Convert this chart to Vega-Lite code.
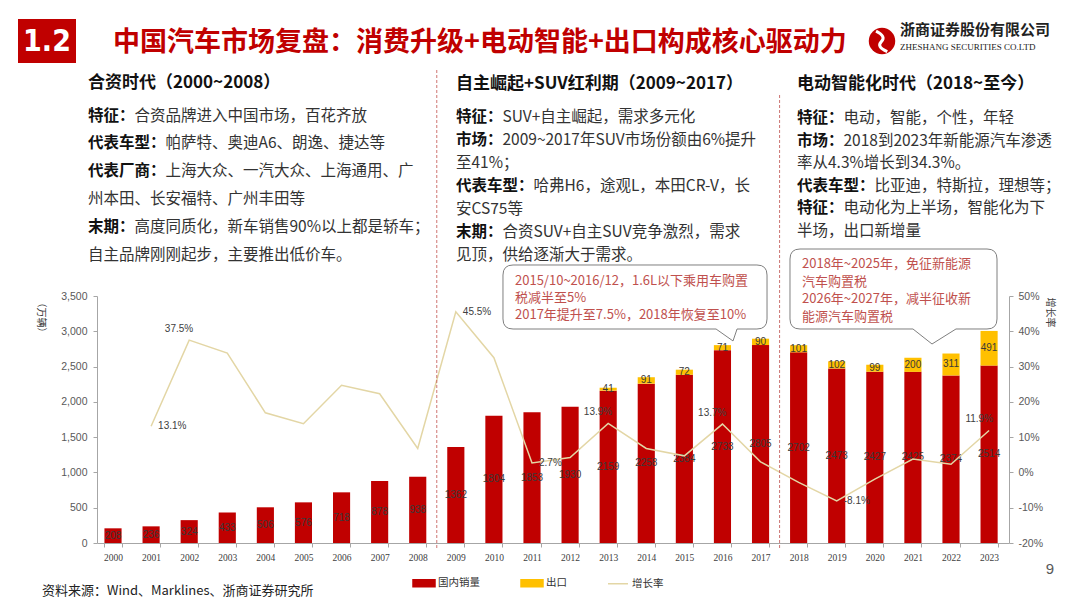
{
  "$schema": "https://vega.github.io/schema/vega-lite/v6.json",
  "autosize": "none",
  "width": 1080,
  "height": 608,
  "padding": 0,
  "background": "white",
  "config": {
    "view": {"stroke": null},
    "font": "Noto Sans CJK SC",
    "locale": {"number": {"decimal": ".", "thousands": ",", "grouping": [3], "currency": ["", ""], "minus": "-"}}
  },
  "datasets": {
    "sales": [
      {"year": "2000", "domestic": 208, "export": null, "growth": null},
      {"year": "2001", "domestic": 236, "export": null, "growth": 0.131},
      {"year": "2002", "domestic": 324, "export": null, "growth": 0.375},
      {"year": "2003", "domestic": 433, "export": null, "growth": 0.338},
      {"year": "2004", "domestic": 506, "export": null, "growth": 0.169},
      {"year": "2005", "domestic": 576, "export": null, "growth": 0.138},
      {"year": "2006", "domestic": 718, "export": null, "growth": 0.247},
      {"year": "2007", "domestic": 878, "export": null, "growth": 0.223},
      {"year": "2008", "domestic": 938, "export": null, "growth": 0.068},
      {"year": "2009", "domestic": 1362, "export": null, "growth": 0.455},
      {"year": "2010", "domestic": 1804, "export": null, "growth": 0.325},
      {"year": "2011", "domestic": 1853, "export": null, "growth": 0.027},
      {"year": "2012", "domestic": 1930, "export": null, "growth": 0.042},
      {"year": "2013", "domestic": 2159, "export": 41, "growth": 0.139},
      {"year": "2014", "domestic": 2258, "export": 91, "growth": 0.068},
      {"year": "2015", "domestic": 2384, "export": 72, "growth": 0.047},
      {"year": "2016", "domestic": 2733, "export": 71, "growth": 0.137},
      {"year": "2017", "domestic": 2805, "export": 90, "growth": 0.030},
      {"year": "2018", "domestic": 2702, "export": 101, "growth": -0.028},
      {"year": "2019", "domestic": 2473, "export": 102, "growth": -0.081},
      {"year": "2020", "domestic": 2427, "export": 99, "growth": -0.019},
      {"year": "2021", "domestic": 2425, "export": 200, "growth": 0.038},
      {"year": "2022", "domestic": 2374, "export": 311, "growth": 0.023},
      {"year": "2023", "domestic": 2514, "export": 491, "growth": 0.119}
    ],
    "p1": [
      {"line": 1, "bold": "特征：", "rest": "合资品牌进入中国市场，百花齐放"},
      {"line": 2, "bold": "代表车型：", "rest": "帕萨特、奥迪A6、朗逸、捷达等"},
      {"line": 3, "bold": "代表厂商：", "rest": "上海大众、一汽大众、上海通用、广"},
      {"line": 4, "bold": null, "rest": "州本田、长安福特、广州丰田等"},
      {"line": 5, "bold": "末期：", "rest": "高度同质化，新车销售90%以上都是轿车；"},
      {"line": 6, "bold": null, "rest": "自主品牌刚刚起步，主要推出低价车。"}
    ],
    "p2": [
      {"line": 1, "bold": "特征：", "rest": "SUV+自主崛起，需求多元化"},
      {"line": 2, "bold": "市场：", "rest": "2009~2017年SUV市场份额由6%提升"},
      {"line": 3, "bold": null, "rest": "至41%；"},
      {"line": 4, "bold": "代表车型：", "rest": "哈弗H6，途观L，本田CR-V，长"},
      {"line": 5, "bold": null, "rest": "安CS75等"},
      {"line": 6, "bold": "末期：", "rest": "合资SUV+自主SUV竞争激烈，需求"},
      {"line": 7, "bold": null, "rest": "见顶，供给逐渐大于需求。"}
    ],
    "p3": [
      {"line": 1, "bold": "特征：", "rest": "电动，智能，个性，年轻"},
      {"line": 2, "bold": "市场：", "rest": "2018到2023年新能源汽车渗透"},
      {"line": 3, "bold": null, "rest": "率从4.3%增长到34.3%。"},
      {"line": 4, "bold": "代表车型：", "rest": "比亚迪，特斯拉，理想等；"},
      {"line": 5, "bold": "特征：", "rest": "电动化为上半场，智能化为下"},
      {"line": 6, "bold": null, "rest": "半场，出口新增量"}
    ]
  },
  "layer": [
    {"data": {"values": [{}]}, "mark": {"type": "rect", "x": 18, "x2": 76, "y": 19, "y2": 63, "color": "#c00000"}, "encoding": {}},
    {"data": {"values": [{}]}, "mark": {"type": "text", "x": 47, "y": 42, "text": "1.2", "align": "center", "baseline": "middle", "font": "DejaVu Sans Condensed, Liberation Sans", "fontWeight": "bold", "fontSize": 30, "color": "white"}, "encoding": {}},
    {"data": {"values": [{}]}, "mark": {"type": "text", "x": 113, "y": 43, "text": "中国汽车市场复盘：消费升级+电动智能+出口构成核心驱动力", "align": "left", "baseline": "middle", "font": "Noto Sans CJK SC", "fontWeight": "bold", "fontSize": 27, "color": "#c00000"}, "encoding": {}},
    {"data": {"values": [{}]}, "mark": {"type": "point", "x": 882, "y": 41, "shape": "circle", "size": 700, "filled": true, "color": "#c00000", "opacity": 1}, "encoding": {}},
    {"data": {"values": [{}]}, "mark": {"type": "point", "x": 882, "y": 41, "shape": "M-0.45,-0.75Q0.35,-0.35-0.05,0.05Q-0.45,0.45,0.4,0.8", "size": 700, "filled": false, "stroke": "white", "strokeWidth": 3, "opacity": 1}, "encoding": {}},
    {"data": {"values": [{}]}, "mark": {"type": "text", "x": 900, "y": 30, "text": "浙商证券股份有限公司", "align": "left", "baseline": "middle", "font": "Noto Sans CJK SC", "fontWeight": "bold", "fontSize": 15, "color": "#222222"}, "encoding": {}},
    {"data": {"values": [{}]}, "mark": {"type": "text", "x": 900, "y": 47, "text": "ZHESHANG SECURITIES CO.LTD", "align": "left", "baseline": "middle", "font": "Liberation Serif", "fontSize": 9, "color": "#222222"}, "encoding": {}},

    {"data": {"values": [{}]}, "mark": {"type": "text", "x": 88, "y": 83, "text": "合资时代（2000~2008）", "align": "left", "baseline": "middle", "font": "Noto Sans CJK SC", "fontWeight": "bold", "fontSize": 17, "color": "#111111"}, "encoding": {}},
    {"data": {"values": [{}]}, "mark": {"type": "text", "x": 456, "y": 84, "text": "自主崛起+SUV红利期（2009~2017）", "align": "left", "baseline": "middle", "font": "Noto Sans CJK SC", "fontWeight": "bold", "fontSize": 17, "color": "#111111"}, "encoding": {}},
    {"data": {"values": [{}]}, "mark": {"type": "text", "x": 797, "y": 84, "text": "电动智能化时代（2018~至今）", "align": "left", "baseline": "middle", "font": "Noto Sans CJK SC", "fontWeight": "bold", "fontSize": 17, "color": "#111111"}, "encoding": {}},

    {
      "data": {"name": "p1"},
      "encoding": {"y": {"field": "line", "type": "quantitative", "scale": {"domain": [1, 6], "range": [115.5, 255], "nice": false, "zero": false}, "axis": null}},
      "layer": [
        {"transform": [{"filter": "datum.bold != null"}], "mark": {"type": "text", "x": 88, "align": "left", "baseline": "middle", "fontSize": 15.5, "fontWeight": "bold", "color": "#111111", "font": "Noto Sans CJK SC"}, "encoding": {"text": {"field": "bold"}}},
        {"transform": [{"filter": "datum.bold == null"}], "mark": {"type": "text", "x": 88, "align": "left", "baseline": "middle", "fontSize": 15.5, "color": "#333333", "font": "Noto Sans CJK SC"}, "encoding": {"text": {"field": "rest"}}},
        {"transform": [{"filter": "datum.bold != null && length(datum.bold) == 3"}], "mark": {"type": "text", "x": 134.5, "align": "left", "baseline": "middle", "fontSize": 15.5, "color": "#333333", "font": "Noto Sans CJK SC"}, "encoding": {"text": {"field": "rest"}}},
        {"transform": [{"filter": "datum.bold != null && length(datum.bold) == 5"}], "mark": {"type": "text", "x": 165.5, "align": "left", "baseline": "middle", "fontSize": 15.5, "color": "#333333", "font": "Noto Sans CJK SC"}, "encoding": {"text": {"field": "rest"}}}
      ]
    },
    {
      "data": {"name": "p2"},
      "encoding": {"y": {"field": "line", "type": "quantitative", "scale": {"domain": [1, 7], "range": [117, 255], "nice": false, "zero": false}, "axis": null}},
      "layer": [
        {"transform": [{"filter": "datum.bold != null"}], "mark": {"type": "text", "x": 456, "align": "left", "baseline": "middle", "fontSize": 15.5, "fontWeight": "bold", "color": "#111111", "font": "Noto Sans CJK SC"}, "encoding": {"text": {"field": "bold"}}},
        {"transform": [{"filter": "datum.bold == null"}], "mark": {"type": "text", "x": 456, "align": "left", "baseline": "middle", "fontSize": 15.5, "color": "#333333", "font": "Noto Sans CJK SC"}, "encoding": {"text": {"field": "rest"}}},
        {"transform": [{"filter": "datum.bold != null && length(datum.bold) == 3"}], "mark": {"type": "text", "x": 502.5, "align": "left", "baseline": "middle", "fontSize": 15.5, "color": "#333333", "font": "Noto Sans CJK SC"}, "encoding": {"text": {"field": "rest"}}},
        {"transform": [{"filter": "datum.bold != null && length(datum.bold) == 5"}], "mark": {"type": "text", "x": 533.5, "align": "left", "baseline": "middle", "fontSize": 15.5, "color": "#333333", "font": "Noto Sans CJK SC"}, "encoding": {"text": {"field": "rest"}}}
      ]
    },
    {
      "data": {"name": "p3"},
      "encoding": {"y": {"field": "line", "type": "quantitative", "scale": {"domain": [1, 6], "range": [118, 231], "nice": false, "zero": false}, "axis": null}},
      "layer": [
        {"transform": [{"filter": "datum.bold != null"}], "mark": {"type": "text", "x": 797, "align": "left", "baseline": "middle", "fontSize": 15.5, "fontWeight": "bold", "color": "#111111", "font": "Noto Sans CJK SC"}, "encoding": {"text": {"field": "bold"}}},
        {"transform": [{"filter": "datum.bold == null"}], "mark": {"type": "text", "x": 797, "align": "left", "baseline": "middle", "fontSize": 15.5, "color": "#333333", "font": "Noto Sans CJK SC"}, "encoding": {"text": {"field": "rest"}}},
        {"transform": [{"filter": "datum.bold != null && length(datum.bold) == 3"}], "mark": {"type": "text", "x": 843.5, "align": "left", "baseline": "middle", "fontSize": 15.5, "color": "#333333", "font": "Noto Sans CJK SC"}, "encoding": {"text": {"field": "rest"}}},
        {"transform": [{"filter": "datum.bold != null && length(datum.bold) == 5"}], "mark": {"type": "text", "x": 874.5, "align": "left", "baseline": "middle", "fontSize": 15.5, "color": "#333333", "font": "Noto Sans CJK SC"}, "encoding": {"text": {"field": "rest"}}}
      ]
    },

    {
      "data": {"name": "sales"},
      "layer": [
        {
          "transform": [{"fold": ["domestic", "export"], "as": ["series", "value"]}],
          "mark": {"type": "bar"},
          "encoding": {
            "x": {"field": "year", "type": "ordinal",
              "scale": {"type": "band", "range": [97, 1009], "paddingInner": 0.55, "paddingOuter": 0.2465, "align": 0.396},
              "axis": {"offset": -65, "title": null, "labelAngle": 0, "labelFontSize": 9.5, "labelFont": "Liberation Serif", "labelColor": "#404040", "domainColor": "#a6a6a6", "tickColor": "#a6a6a6", "tickSize": 4, "tickBand": "extent", "labelPadding": 5}},
            "y": {"field": "value", "type": "quantitative", "stack": "zero",
              "scale": {"domain": [0, 3500], "range": [543, 296], "nice": false},
              "axis": {"offset": -97, "values": [0, 500, 1000, 1500, 2000, 2500, 3000, 3500], "format": ",", "labelExpr": "format(datum.value, ',')", "grid": false, "labelFontSize": 10.5, "labelColor": "#595959", "labelFont": "Liberation Sans", "domainColor": "#a6a6a6", "tickColor": "#a6a6a6", "tickSize": 4, "labelPadding": 6,
                "title": "（万辆）", "titleAngle": 90, "titleX": -57, "titleY": 297, "titleAlign": "left", "titleBaseline": "middle", "titleFontSize": 10, "titleFontWeight": "normal", "titleColor": "#404040", "titleFont": "Noto Sans CJK SC"}},
            "color": {"field": "series", "type": "nominal",
              "scale": {"domain": ["domestic", "export", "growth"], "range": ["#c00000", "#ffc000", "#e3d6a5"]},
              "legend": {"orient": "none", "legendX": 413, "legendY": 572, "direction": "horizontal", "title": null, "labelFontSize": 10.5, "labelColor": "#333333", "labelFont": "Noto Sans CJK SC", "columnPadding": 38, "labelOffset": 3, "symbolSize": 400,
                "labelExpr": "datum.value == 'domestic' ? '国内销量' : datum.value == 'export' ? '出口' : '增长率'",
                "encode": {"symbols": {"update": {
                  "shape": {"signal": "datum.value == 'growth' ? 'M-1,0H1' : 'M-1.1,-0.35H1.1V0.35H-1.1Z'"},
                  "fill": {"signal": "datum.value == 'growth' ? 'transparent' : scale('color', datum.value)"},
                  "stroke": {"signal": "datum.value == 'growth' ? scale('color', datum.value) : 'transparent'"},
                  "strokeWidth": {"value": 1.5},
                  "opacity": {"value": 1}
                }}}}},
            "order": {"field": "series", "sort": "ascending"}
          }
        },
        {
          "transform": [
            {"fold": ["domestic", "export"], "as": ["series", "value"]},
            {"filter": "datum.value != null"},
            {"stack": "value", "groupby": ["year"], "sort": [{"field": "series", "order": "ascending"}], "as": ["v0", "v1"]},
            {"fold": ["v0", "v1"], "as": ["edge", "pos"]},
            {"aggregate": [{"op": "mean", "field": "pos", "as": "mid"}, {"op": "max", "field": "value", "as": "label"}], "groupby": ["year", "series"]}
          ],
          "mark": {"type": "text", "fontSize": 10, "color": "#3a3a3a", "font": "Liberation Sans", "baseline": "middle"},
          "encoding": {
            "x": {"field": "year", "type": "ordinal"},
            "y": {"field": "mid", "type": "quantitative",
              "axis": {"offset": -97, "values": [0, 500, 1000, 1500, 2000, 2500, 3000, 3500], "format": ",", "labelExpr": "format(datum.value, ',')", "grid": false, "labelFontSize": 10.5, "labelColor": "#595959", "labelFont": "Liberation Sans", "domainColor": "#a6a6a6", "tickColor": "#a6a6a6", "tickSize": 4, "labelPadding": 6,
                "title": "（万辆）", "titleAngle": 90, "titleX": -57, "titleY": 297, "titleAlign": "left", "titleBaseline": "middle", "titleFontSize": 10, "titleFontWeight": "normal", "titleColor": "#404040", "titleFont": "Noto Sans CJK SC"}},
            "text": {"field": "label", "type": "quantitative", "format": "d"}
          }
        }
      ]
    },
    {
      "data": {"name": "sales"},
      "encoding": {
        "x": {"field": "year", "type": "ordinal"},
        "y": {"field": "growth", "type": "quantitative",
          "scale": {"domain": [-0.2, 0.5], "range": [543, 296], "nice": false, "zero": false},
          "axis": {"orient": "right", "offset": -71, "values": [-0.2, -0.1, 0, 0.1, 0.2, 0.3, 0.4, 0.5], "format": ".0%", "grid": false, "labelFontSize": 10.5, "labelColor": "#595959", "labelFont": "Liberation Sans", "domainColor": "#a6a6a6", "tickColor": "#a6a6a6", "tickSize": 4, "labelPadding": 5,
            "title": "增长率", "titleAngle": 90, "titleX": 40, "titleY": 297, "titleAlign": "left", "titleBaseline": "middle", "titleFontSize": 10, "titleFontWeight": "normal", "titleColor": "#404040", "titleFont": "Noto Sans CJK SC"}}
      },
      "layer": [
        {"mark": {"type": "line", "strokeWidth": 1.5}, "encoding": {"color": {"datum": "growth", "type": "nominal"}}},
        {"transform": [{"filter": {"field": "year", "oneOf": ["2001", "2009", "2011", "2019"]}}],
          "mark": {"type": "text", "align": "left", "dx": 7, "baseline": "middle", "fontSize": 10, "color": "#404040", "font": "Liberation Sans"},
          "encoding": {"text": {"field": "growth", "type": "quantitative", "format": ".1%"}}},
        {"transform": [{"filter": {"field": "year", "oneOf": ["2002", "2013", "2016", "2023"]}}],
          "mark": {"type": "text", "align": "right", "dx": 4, "dy": -11, "baseline": "middle", "fontSize": 10, "color": "#404040", "font": "Liberation Sans"},
          "encoding": {"text": {"field": "growth", "type": "quantitative", "format": ".1%"}}}
      ]
    },
    {
      "data": {"values": [{}]},
      "mark": {"type": "rule", "color": "#c0504d", "strokeDash": [3, 2], "strokeWidth": 1, "opacity": 0.8},
      "encoding": {"x": {"datum": "2008", "type": "ordinal", "bandPosition": 1.611}, "y": {"value": 70}, "y2": {"value": 548}}
    },
    {
      "data": {"values": [{}]},
      "mark": {"type": "rule", "color": "#c0504d", "strokeDash": [3, 2], "strokeWidth": 1, "opacity": 0.8},
      "encoding": {"x": {"datum": "2017", "type": "ordinal", "bandPosition": 1.611}, "y": {"value": 95}, "y2": {"value": 548}}
    },
    {
      "data": {"values": [{}]},
      "mark": {"type": "point", "x": 635, "y": 297, "size": 78400, "filled": true, "fill": "white", "stroke": "#7f7f7f", "strokeWidth": 1, "opacity": 1,
        "shape": "M-0.871,-0.2286H0.871Q0.943,-0.2286,0.943,-0.157V0.157Q0.943,0.2286,0.871,0.2286H0.729L0.700,0.314L0.579,0.2286H-0.871Q-0.943,0.2286,-0.943,0.157V-0.157Q-0.943,-0.2286,-0.871,-0.2286Z"},
      "encoding": {}
    },
    {
      "data": {"values": [{}]},
      "mark": {"type": "text", "x": 515, "y": 275, "align": "left", "baseline": "top", "lineHeight": 17, "fontSize": 13, "color": "#c0504d", "font": "Noto Sans CJK SC",
        "text": ["2015/10~2016/12，1.6L以下乘用车购置", "税减半至5%", "2017年提升至7.5%，2018年恢复至10%"]},
      "encoding": {}
    },
    {
      "data": {"values": [{}]},
      "mark": {"type": "point", "x": 893.5, "y": 289, "size": 48400, "filled": true, "fill": "white", "stroke": "#7f7f7f", "strokeWidth": 1, "opacity": 1,
        "shape": "M-0.850,-0.3636H0.850Q0.941,-0.3636,0.941,-0.2727V0.2727Q0.941,0.3636,0.850,0.3636H0.568L0.35,0.5L0.177,0.3636H-0.850Q-0.941,0.3636,-0.941,0.2727V-0.2727Q-0.941,-0.3636,-0.850,-0.3636Z"},
      "encoding": {}
    },
    {
      "data": {"values": [{}]},
      "mark": {"type": "text", "x": 802, "y": 258, "align": "left", "baseline": "top", "lineHeight": 17.5, "fontSize": 13, "color": "#c0504d", "font": "Noto Sans CJK SC",
        "text": ["2018年~2025年，免征新能源", "汽车购置税", "2026年~2027年，减半征收新", "能源汽车购置税"]},
      "encoding": {}
    },
    {"data": {"values": [{}]}, "mark": {"type": "text", "x": 42, "y": 591, "text": "资料来源：Wind、Marklines、浙商证券研究所", "align": "left", "baseline": "middle", "fontSize": 13, "color": "#222222", "font": "Noto Sans CJK SC"}, "encoding": {}},
    {"data": {"values": [{}]}, "mark": {"type": "text", "x": 1050, "y": 569, "text": "9", "align": "center", "baseline": "middle", "fontSize": 15, "color": "#595959", "font": "Liberation Sans"}, "encoding": {}}
  ],
  "resolve": {"scale": {"y": "independent"}}
}
